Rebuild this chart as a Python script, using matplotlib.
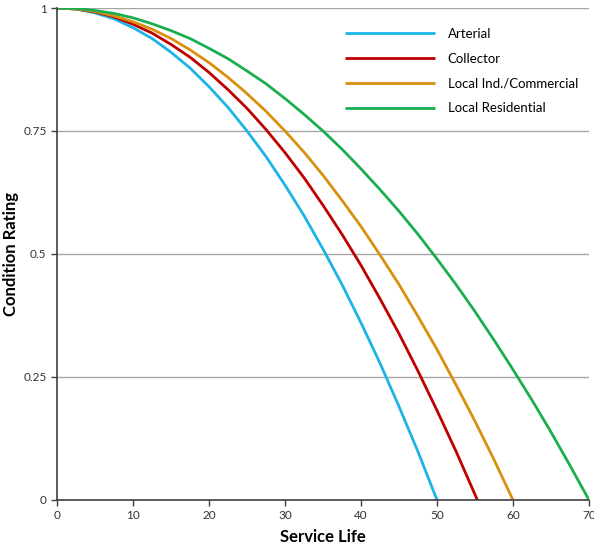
import matplotlib
matplotlib.use("Agg")
import matplotlib.pyplot as plt

# valores (a cada 2.5 anos)
x_arterial = [0, 2.5, 5, 7.5, 10, 12.5, 15, 17.5, 20, 22.5, 25, 27.5, 30, 32.5, 35,
              37.5, 40, 42.5, 45, 47.5, 50]
y_arterial = [1, 0.998, 0.99, 0.978, 0.96, 0.938, 0.91, 0.878, 0.84, 0.798, 0.75, 0.698,
              0.64, 0.578, 0.51, 0.438, 0.36, 0.278, 0.19, 0.098, 0]

x_collector = [0, 2.5, 5, 7.5, 10, 12.5, 15, 17.5, 20, 22.5, 25, 27.5, 30, 32.5, 35,
               37.5, 40, 42.5, 45, 47.5, 50, 52.5, 55, 55.3]
y_collector = [1, 0.998, 0.992, 0.982, 0.967, 0.949, 0.926, 0.9, 0.869, 0.834, 0.796, 0.753,
               0.706, 0.655, 0.599, 0.54, 0.477, 0.409, 0.338, 0.262, 0.182, 0.099, 0.011, 0]

x_industrial = [0, 2.5, 5, 7.5, 10, 12.5, 15, 17.5, 20, 22.5, 25, 27.5, 30, 32.5, 35,
                37.5, 40, 42.5, 45, 47.5, 50, 52.5, 55, 57.5, 60]
y_industrial = [1, 0.998, 0.993, 0.984, 0.972, 0.957, 0.938, 0.915, 0.889, 0.859, 0.826, 0.79,
                0.75, 0.707, 0.66, 0.609, 0.556, 0.498, 0.438, 0.373, 0.306, 0.234, 0.16,
                0.082, 0]

x_residential = [0, 2.5, 5, 7.5, 10, 12.5, 15, 17.5, 20, 22.5, 25, 27.5, 30, 32.5, 35,
                 37.5, 40, 42.5, 45, 47.5, 50, 52.5, 55, 57.5, 60, 62.5, 65, 67.5, 70]
y_residential = [1, 0.999, 0.995, 0.989, 0.98, 0.968, 0.954, 0.938, 0.918, 0.897, 0.872, 0.846,
                 0.816, 0.784, 0.75, 0.713, 0.673, 0.631, 0.587, 0.54, 0.49, 0.438, 0.383,
                 0.325, 0.265, 0.203, 0.138, 0.07, 0]

series = [
    ("Arterial", x_arterial, y_arterial, "#1CB4E8"),
    ("Collector", x_collector, y_collector, "#C00000"),
    ("Local Ind./Commercial", x_industrial, y_industrial, "#D8900E"),
    ("Local Residential", x_residential, y_residential, "#1BAE4E"),
]

plt.rcParams["font.family"] = ["Lato", "DejaVu Sans"]

fig = plt.figure(figsize=(5.94, 5.48), dpi=100)
ax = fig.add_axes([0.096, 0.0876, 0.8956, 0.8978])

for nome, xs, ys, cor in series:
    ax.plot(xs, ys, color=cor, linewidth=2.0, label=nome, solid_capstyle="butt")

ax.set_xlim(0, 70)
ax.set_ylim(0, 1)
ax.set_xticks(range(0, 71, 10))
ax.set_yticks([0, 0.25, 0.5, 0.75, 1])
ax.set_yticklabels(["0", "0.25", "0.5", "0.75", "1"])
ax.yaxis.grid(True, color="#A6A6A6", linewidth=1.0)
ax.set_axisbelow(True)

for s in ["top", "right"]:
    ax.spines[s].set_visible(False)
for s in ["left", "bottom"]:
    ax.spines[s].set_color("#404040")
    ax.spines[s].set_linewidth(1.2)

ax.tick_params(axis="both", labelsize=8.5, colors="#404040", length=4, width=1)
ax.tick_params(axis="both", labelcolor="#333333")

ax.set_xlabel("Service Life", fontsize=12, fontweight="bold")
ax.set_ylabel("Condition Rating", fontsize=12, fontweight="bold")
ax.xaxis.set_label_coords(0.5, -0.058)
ax.yaxis.set_label_coords(-0.071, 0.5)

ax.legend(loc="upper left", bbox_to_anchor=(0.541, 0.96), frameon=False,
          fontsize=9.5, handlelength=6.8, handletextpad=1.0, labelspacing=0.98,
          borderpad=0, borderaxespad=0)

fig.savefig("out.png", dpi=100)
